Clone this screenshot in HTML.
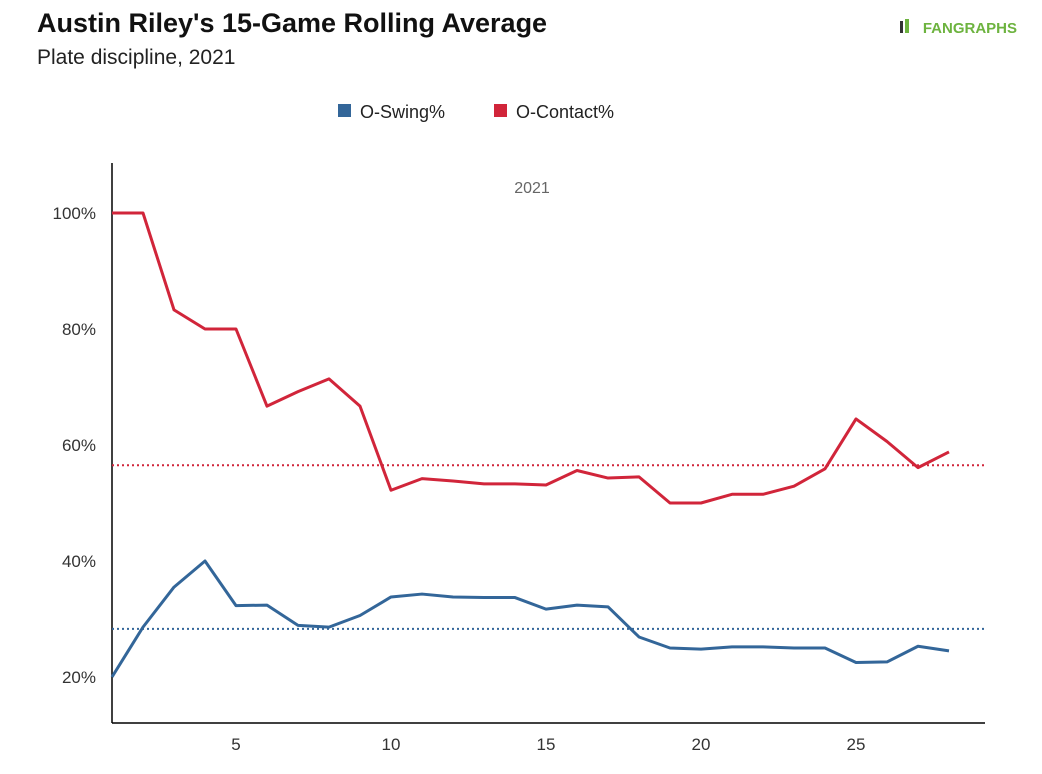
<!DOCTYPE html>
<html><head><meta charset="utf-8"><style>
body{margin:0;background:#fff;width:1042px;height:769px;overflow:hidden;font-family:"Liberation Sans",sans-serif;}
</style></head><body>
<svg width="1042" height="769">
<text x="37" y="32" font-size="27" font-weight="bold" fill="#111">Austin Riley's 15-Game Rolling Average</text>
<text x="37" y="64" font-size="21" fill="#222">Plate discipline, 2021</text>
<g><text x="1017" y="33" text-anchor="end" font-size="15" font-weight="bold" fill="#6db33f">FANGRAPHS</text><rect x="900" y="21" width="3" height="12" fill="#333"/><rect x="905" y="19" width="4" height="14" fill="#6db33f"/></g>
<g>
<g><rect x="338" y="104" width="13" height="13" fill="#336699"/><text x="360" y="118" font-size="18" fill="#222">O-Swing%</text></g>
<g><rect x="494" y="104" width="13" height="13" fill="#d1253a"/><text x="516" y="118" font-size="18" fill="#222">O-Contact%</text></g>
</g>
<text x="532" y="193" text-anchor="middle" font-size="16" fill="#666">2021</text>
<g id="axes"></g><g id="marks"></g>
</svg>
<script>
const games=[1,2,3,4,5,6,7,8,9,10,11,12,13,14,15,16,17,18,19,20,21,22,23,24,25,26,27,28];
const oContact=[100,100,83.3,80,80,66.7,69.2,71.4,66.7,52.2,54.2,53.8,53.3,53.3,53.1,55.6,54.3,54.5,50,50,51.5,51.5,52.9,55.9,64.5,60.6,56.1,58.8];
const oSwing=[20,28.6,35.5,40,32.3,32.4,28.9,28.6,30.6,33.8,34.3,33.8,33.7,33.7,31.7,32.4,32.1,26.9,25,24.8,25.2,25.2,25,25,22.5,22.6,25.3,24.5];
const oContactAvg=56.5;
const oSwingAvg=28.3;
const yTicks=[20,40,60,80,100];
const xTicks=[5,10,15,20,25];
const NS="http://www.w3.org/2000/svg";
const X=v=>112+(v-1)*31;
const Y=v=>677-(v-20)*5.8;
const axes=document.getElementById('axes'),marks=document.getElementById('marks');
function mk(tag,attrs,parent){const e=document.createElementNS(NS,tag);for(const k in attrs)e.setAttribute(k,attrs[k]);parent.appendChild(e);return e;}
let ax=mk('line',{x1:112,y1:163,x2:112,y2:723,stroke:'#000','stroke-width':1.5},axes);


let bx=mk('line',{x1:112,y1:723,x2:985,y2:723,stroke:'#000','stroke-width':1.5},axes);


yTicks.forEach(t=>{const e=mk('text',{x:96,y:Y(t)+6,'text-anchor':'end','font-size':17,fill:'#333'},axes);e.textContent=t+'%';

});
xTicks.forEach(t=>{const e=mk('text',{x:X(t),y:750,'text-anchor':'middle','font-size':17,fill:'#333'},axes);e.textContent=t;

});
const ac=mk('line',{x1:112,x2:985,y1:Y(oContactAvg),y2:Y(oContactAvg),stroke:'#d1253a','stroke-width':2,'stroke-dasharray':'2,3'},marks);


const as=mk('line',{x1:112,x2:985,y1:Y(oSwingAvg),y2:Y(oSwingAvg),stroke:'#336699','stroke-width':2,'stroke-dasharray':'2,3'},marks);


const pc=mk('polyline',{points:games.map((g,i)=>X(g)+','+Y(oContact[i])).join(' '),fill:'none',stroke:'#d1253a','stroke-width':3,'stroke-linejoin':'round'},marks);


const ps=mk('polyline',{points:games.map((g,i)=>X(g)+','+Y(oSwing[i])).join(' '),fill:'none',stroke:'#336699','stroke-width':3,'stroke-linejoin':'round'},marks);


</script>
</body></html>
